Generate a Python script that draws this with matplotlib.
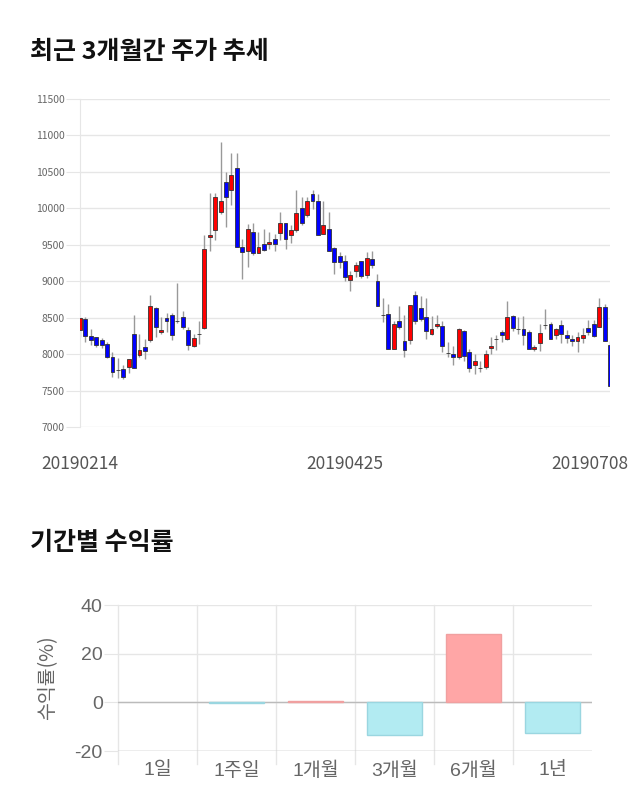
import matplotlib
matplotlib.use("Agg")
import matplotlib.pyplot as plt
import matplotlib.transforms as mtransforms
import numpy as np

plt.rcParams['font.family'] = ['Noto Sans CJK KR', 'DejaVu Sans']
plt.rcParams['axes.unicode_minus'] = False

# daily candles, 2019-02-14 .. 2019-07-08
opens = [8330, 8480, 8250, 8230, 8200, 8140, 7960, 7780, 7790, 7825,
         8270, 7990, 8100, 8190, 8630, 8300, 8495, 8540, 8455, 8510,
         8335, 8110, 8270, 8360, 9600, 9700, 9948, 10359, 10253, 10550,
         9473, 9410, 9674, 9390, 9509, 9514, 9578, 9664, 9797, 9628,
         9697, 10007, 9902, 10199, 10098, 9651, 9715, 9454, 9345, 9276,
         9012, 9135, 9281, 9080, 9308, 9002, 8541, 8550, 8075, 8455,
         8180, 8198, 8806, 8633, 8505, 8272, 8386, 8391, 8016, 8007,
         7961, 8313, 8030, 7856, 7815, 7820, 8080, 8208, 8299, 8208,
         8518, 8350, 8350, 8299, 8066, 8148, 8404, 8418, 8258, 8404,
         8258, 8212, 8185, 8226, 8363, 8409, 8368, 8646, 8121]
highs = [8510, 8510, 8350, 8230, 8220, 8170, 8030, 7940, 7850, 7930,
         8540, 8270, 8210, 8815, 8650, 8510, 8570, 8570, 8980, 8590,
         8370, 8280, 8455, 9640, 10208, 10208, 10906, 10505, 10756, 10756,
         9582, 9790, 9797, 9674, 9720, 9674, 9642, 9948, 9797, 9774,
         10253, 10153, 10153, 10253, 10199, 10098, 9948, 9468, 9400, 9354,
         9139, 9263, 9281, 9400, 9413, 9103, 8770, 8692, 8450, 8660,
         8532, 8678, 8865, 8792, 8774, 8523, 8541, 8455, 8167, 8112,
         8363, 8331, 8075, 8007, 7902, 8053, 8236, 8267, 8327, 8728,
         8541, 8509, 8523, 8327, 8121, 8418, 8623, 8441, 8363, 8473,
         8327, 8267, 8304, 8363, 8468, 8464, 8774, 8683, 8176]
lows = [8240, 8170, 8120, 8100, 8085, 7950, 7690, 7675, 7665, 7735,
        7810, 7960, 7930, 8170, 8235, 8270, 8300, 8190, 8420, 8350,
        8060, 8100, 8140, 8340, 9413, 9560, 9925, 9742, 10048, 9464,
        9034, 9200, 9354, 9390, 9409, 9446, 9413, 9560, 9446, 9527,
        9674, 9765, 9879, 9993, 9628, 9651, 9413, 9094, 9185, 9002,
        8865, 9057, 9048, 9043, 9185, 8655, 8441, 8066, 8075, 8350,
        7961, 8135, 8409, 8455, 8203, 8265, 8359, 8030, 7957, 7847,
        7929, 7906, 7756, 7733, 7756, 7802, 7998, 8053, 8167, 8190,
        8313, 8281, 8121, 8075, 8048, 8043, 8350, 8203, 8203, 8149,
        8149, 8112, 8030, 8158, 8267, 8235, 8368, 8180, 7564]
closes = [8490, 8250, 8200, 8120, 8130, 7965, 7755, 7780, 7690, 7930,
          7810, 8050, 8040, 8660, 8370, 8330, 8460, 8260, 8455, 8370,
          8120, 8220, 8270, 9440, 9630, 10153, 10107, 10153, 10459, 9464,
          9400, 9720, 9390, 9468, 9423, 9541, 9505, 9797, 9573, 9706,
          9934, 9797, 10098, 10103, 9628, 9765, 9413, 9263, 9263, 9057,
          9080, 9226, 9066, 9322, 9217, 8655, 8541, 8066, 8409, 8368,
          8053, 8674, 8455, 8486, 8318, 8340, 8418, 8108, 8016, 7957,
          8340, 7975, 7811, 7906, 7815, 7998, 8117, 8208, 8267, 8509,
          8359, 8350, 8258, 8075, 8098, 8290, 8404, 8203, 8340, 8272,
          8217, 8176, 8240, 8263, 8299, 8249, 8646, 8180, 7564]
date_ticks = [0, 49, 98]
date_labels = ['20190214', '20190425', '20190708']

periods = ['1일', '1주일', '1개월', '3개월', '6개월', '1년']
returns = [0.0, -0.3, 0.6, -13.5, 28.2, -12.4]

fig = plt.figure(figsize=(6.4, 8.1), dpi=100)
grey = '#666666'

fig.text(30 / 640, 1 - 52 / 810, '최근 3개월간 주가 추세', fontsize=18,
         fontweight='bold', color='#111111', va='center')
fig.text(30 / 640, 1 - 543 / 810, '기간별 수익률', fontsize=18,
         fontweight='bold', color='#111111', va='center')

# ---- candles
ax = fig.add_axes([80 / 640, 1 - 427 / 810, 530 / 640, 328 / 810])
o = np.array(opens)
h = np.array(highs)
l = np.array(lows)
c = np.array(closes)
x = np.arange(len(o))
up = c >= o
ax.vlines(x, l, h, color='#999999', linewidth=1.0, zorder=2)
body_col = np.where(up, '#ff0000', '#0000ff')
ax.bar(x, np.abs(c - o), bottom=np.minimum(o, c), width=0.72,
       color=body_col, edgecolor='#333333', linewidth=0.6, zorder=3)

ax.set_xlim(0, 98)
ax.set_ylim(7000, 11500)
ax.set_yticks(np.arange(7000, 11501, 500))
ax.tick_params(axis='y', labelsize=7.5, labelcolor=grey, length=10,
               color='#e6e6e6', pad=1)
ax.grid(axis='y', color='#e6e6e6', linewidth=1)
ax.set_axisbelow(True)
ax.set_xticks(date_ticks)
ax.set_xticklabels(date_labels)
ax.tick_params(axis='x', labelsize=12.5, labelcolor='#555555', length=0, pad=20)
last = ax.get_xticklabels()[-1]
last.set_transform(last.get_transform() +
                   mtransforms.ScaledTranslation(-20 / 100, 0, fig.dpi_scale_trans))
for s in ['top', 'right', 'bottom']:
    ax.spines[s].set_visible(False)
ax.spines['left'].set_color('#e6e6e6')

# ---- returns
ax2 = fig.add_axes([118 / 640, 1 - 751 / 810, 474 / 640, 146 / 810])
xs = np.arange(len(periods))
r = np.array(returns)
face = np.where(r >= 0, '#ffa6a6', '#b2ebf2')
edge = np.where(r >= 0, '#f0a0a0', '#9ad6e0')
lw = np.where(r == 0, 0, 1)
ax2.bar(xs, r, width=0.7, color=face, edgecolor=edge, linewidth=lw, zorder=3)
ax2.set_xlim(-0.5, 5.5)
ax2.set_ylim(-20, 40)
ax2.set_yticks([-20, 0, 20, 40])
ax2.grid(axis='y', color='#e6e6e6', linewidth=1)
ax2.axhline(0, color='#bbbbbb', linewidth=1, zorder=2)
ax2.axhline(-20, color='#bbbbbb', linewidth=1, zorder=2)
for b in np.arange(-0.5, 5.0, 1.0):
    ax2.axvline(b, ymin=-0.09, ymax=1, color='#e6e6e6', linewidth=1,
                clip_on=False, zorder=1)
ax2.set_xticks(xs)
ax2.set_xticklabels(periods)
ax2.tick_params(axis='x', labelsize=14, labelcolor=grey, length=0, pad=8)
ax2.tick_params(axis='y', labelsize=14, labelcolor=grey, length=10,
                color='#e6e6e6', pad=1)
for t in ax2.get_xticklabels() + ax2.get_yticklabels():
    t.set_family(['Liberation Sans', 'Noto Sans CJK KR'])
ax2.set_ylabel('수익률(%)', fontsize=14, color=grey, labelpad=12)
for s in ax2.spines.values():
    s.set_visible(False)

fig.savefig('out.png', dpi=100)
